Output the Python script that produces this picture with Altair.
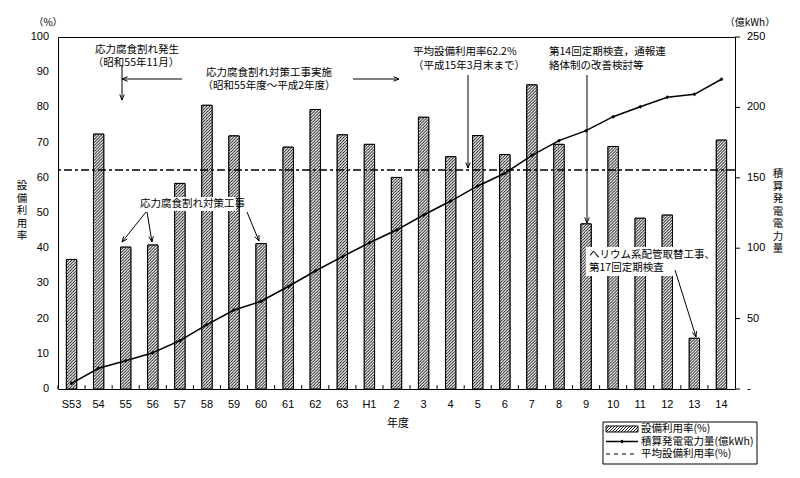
import math
import urllib.parse
import altair as alt
import pandas as pd

# ---------------- data ----------------
years = ["S53", "54", "55", "56", "57", "58", "59", "60", "61", "62", "63", "H1",
         "2", "3", "4", "5", "6", "7", "8", "9", "10", "11", "12", "13", "14"]
utilization = [36.8, 72.4, 40.3, 40.9, 58.4, 80.6, 71.9, 41.3, 68.7, 79.4, 72.2, 69.5,
               60.1, 77.2, 66.0, 72.0, 66.6, 86.4, 69.5, 46.9, 68.9, 48.5, 49.4, 14.4, 70.7]
cumulative = [4.0, 14.7, 20.1, 25.8, 34.3, 45.7, 56.1, 62.3, 72.8, 83.8, 94.0, 103.9,
              112.9, 123.6, 133.5, 144.2, 153.2, 166.0, 176.4, 183.5, 193.4, 200.5, 207.2, 209.3, 220.0]
avg_util = 62.2
left_ticks = [0, 10, 20, 30, 40, 50, 60, 70, 80, 90, 100]
right_ticks = [0, 50, 100, 150, 200, 250]
right_tick_labels = ["-", "50", "100", "150", "200", "250"]

CJK = "Noto Sans CJK JP"
NUM = "Liberation Sans"
W, H = 677, 352
OX, OY = 58, 37  # page position of plot origin
STEP = W / len(years)


def px(x):
    return x - OX


def py(y):
    return y - OY


# hatch pattern as an SVG image (tiles at native pixel size)
svg = ("<svg xmlns='http://www.w3.org/2000/svg' width='100%' height='100%'>"
       "<defs><pattern id='h' width='3' height='3' patternUnits='userSpaceOnUse'>"
       "<path d='M-1,1L1,-1M0,3L3,0M2,4L4,2' stroke='#000' stroke-width='0.9'/>"
       "</pattern></defs>"
       "<rect width='100%' height='100%' fill='#fff'/>"
       "<rect width='100%' height='100%' fill='url(#h)'/></svg>")
HATCH = "data:image/svg+xml;charset=utf-8," + urllib.parse.quote(svg, safe="")

df = pd.DataFrame({"year": years, "util": utilization, "cum": cumulative})
dummy = pd.DataFrame({"d": [0]})

quiet = dict(title=None, labels=False, ticks=False, domain=False, grid=False)
x_scale = alt.Scale(paddingInner=0.62, paddingOuter=0.31)
x_enc = alt.X("year:N", sort=years, scale=x_scale, axis=alt.Axis(**quiet))
x_enc_na = alt.X("year:N", sort=years, scale=x_scale, axis=None)

yl_scale = alt.Scale(domain=[0, 100], nice=False, zero=True)
yr_scale = alt.Scale(domain=[0, 250], nice=False, zero=True)

base = alt.Chart(df)

bars = base.mark_bar(fill="#ffffff", stroke="black", strokeWidth=1).encode(
    x=x_enc, y=alt.Y("util:Q", scale=yl_scale, axis=alt.Axis(values=left_ticks, **quiet)))
hatch = base.mark_image(aspect=False).encode(
    x=x_enc_na, y=alt.Y("util:Q", scale=yl_scale, axis=None), y2=alt.datum(0),
    url=alt.value(HATCH))
outline = base.mark_bar(fillOpacity=0, stroke="black", strokeWidth=1).encode(
    x=x_enc_na, y=alt.Y("util:Q", scale=yl_scale, axis=None))
# small inward ticks at category boundaries on the bottom axis
xticks = base.mark_rule(color="black", strokeWidth=1, xOffset=-STEP / 2).encode(
    x=x_enc_na, y=alt.datum(0, scale=yl_scale), y2=alt.datum(1.1))
# category labels of the bottom axis
xlabels = base.mark_text(font=NUM, fontSize=11, color="black", baseline="middle").encode(
    x=x_enc_na, y=alt.value(H + 16), text="year:N")
avg_rule = alt.Chart(pd.DataFrame({"v": [avg_util]})).mark_rule(
    color="black", strokeWidth=1.5, strokeDash=[8, 3, 3, 3]
).encode(y=alt.Y("v:Q", scale=yl_scale, axis=None))
# left axis labels, placed through the left scale
ylabels = alt.Chart(pd.DataFrame({"v": left_ticks})).mark_text(
    font=NUM, fontSize=11, color="black", align="right", baseline="middle"
).encode(x=alt.value(-9), y=alt.Y("v:Q", scale=yl_scale, axis=None), text="v:Q")

left = alt.layer(bars, hatch, outline, xticks, xlabels, avg_rule, ylabels)

line = base.mark_line(color="black", strokeWidth=1.5).encode(
    x=x_enc_na,
    y=alt.Y("cum:Q", scale=yr_scale, axis=alt.Axis(values=right_ticks, orient="right", **quiet)))
pts = base.mark_point(filled=True, shape="diamond", size=16, color="black", opacity=1).encode(
    x=x_enc_na, y=alt.Y("cum:Q", scale=yr_scale, axis=None))
rdf = pd.DataFrame({"v": right_ticks, "lab": right_tick_labels})
rticks = alt.Chart(rdf).mark_rule(color="black", strokeWidth=1).encode(
    x=alt.value(W), x2=alt.value(W + 5), y=alt.Y("v:Q", scale=yr_scale, axis=None))
rlabels = alt.Chart(rdf).mark_text(font=NUM, fontSize=11, color="black", align="left",
                                   baseline="middle").encode(
    x=alt.value(W + 12), y=alt.Y("v:Q", scale=yr_scale, axis=None), text="lab:N")
right = alt.layer(line, pts, rticks, rlabels)

# ---------------- annotations (pixel positions, alt.value) ----------------
annos = []


def rect(x1, y1, x2, y2, **kw):
    annos.append(alt.Chart(dummy).mark_rect(**kw).encode(
        x=alt.value(px(x1)), x2=alt.value(px(x2)), y=alt.value(py(y1)), y2=alt.value(py(y2))))


def seg(x1, y1, x2, y2, **kw):
    annos.append(alt.Chart(dummy).mark_rule(**kw).encode(
        x=alt.value(px(x1)), x2=alt.value(px(x2)), y=alt.value(py(y1)), y2=alt.value(py(y2))))


def text(x, y, t, align="left", size=10.5, font=CJK):
    annos.append(alt.Chart(dummy).mark_text(font=font, fontSize=size, color="black", align=align,
                                            baseline="middle", text=t).encode(
        x=alt.value(px(x)), y=alt.value(py(y))))


def arrow(x1, y1, x2, y2, head=6, ang=22):
    seg(x1, y1, x2, y2, color="black", strokeWidth=1)
    a = math.atan2(y1 - y2, x1 - x2)
    for s in (-1, 1):
        b = a + s * math.radians(ang)
        seg(x2, y2, x2 + head * math.cos(b), y2 + head * math.sin(b), color="black", strokeWidth=1)


rect(136, 197, 236, 211, fill="white")
rect(586, 247, 692, 276, fill="white")

text(137, 50, "応力腐食割れ発生", "center")
text(136, 63, "（昭和55年11月）", "center")
text(269, 73, "応力腐食割れ対策工事実施", "center")
text(269, 86, "（昭和55年度～平成2年度）", "center")
text(413, 52, "平均設備利用率62.2%")
text(413, 66, "（平成15年3月末まで）")
text(549, 52, "第14回定期検査，通報連")
text(549, 66, "絡体制の改善検討等")
text(140, 204, "応力腐食割れ対策工事")
text(589, 255, "ヘリウム系配管取替工事、")
text(589, 268, "第17回定期検査")

for a in [(122, 66, 122, 100), (182, 79, 122, 79), (353, 79, 399, 79),
          (468, 75, 468, 168), (587, 75, 587, 223),
          (146, 212, 122, 242), (147, 212, 152, 242), (247, 212, 259, 241),
          (675, 270, 696, 337)]:
    arrow(*a)

# axis titles and units
text(398, 424, "年度", "center", size=11)
text(48, 23, "（%）", "center", size=10)
text(750, 23, "（億kWh）", "center", size=10)
for i, c in enumerate("設備利用率"):
    text(22, 186 + 12.5 * i, c, "center")
for i, c in enumerate("積算発電電力量"):
    text(778, 174 + 12.5 * i, c, "center")

# legend
rect(603, 422, 757, 464, fill="white", stroke="black", strokeWidth=1)
annos.append(alt.Chart(dummy).mark_image(aspect=False).encode(
    x=alt.value(px(606)), x2=alt.value(px(638)), y=alt.value(py(426)), y2=alt.value(py(432)),
    url=alt.value(HATCH)))
rect(606, 426, 638, 432, fillOpacity=0, stroke="black", strokeWidth=1)
seg(606, 441.5, 638, 441.5, color="black", strokeWidth=1.5)
annos.append(alt.Chart(dummy).mark_point(filled=True, shape="diamond", size=16, color="black",
                                         opacity=1).encode(x=alt.value(px(622)), y=alt.value(py(441.5))))
seg(606, 454, 638, 454, color="black", strokeWidth=1, strokeDash=[4, 4])
text(641, 429, "設備利用率(%)")
text(641, 441.5, "積算発電電力量(億kWh)")
text(641, 454, "平均設備利用率(%)")

chart = alt.layer(left, right, *annos).resolve_scale(y="independent").properties(
    width=W, height=H,
    autosize=alt.AutoSizeParams(type="none"),
    padding={"left": 50, "top": 29, "right": 57, "bottom": 80},
    background="white",
).configure_view(stroke="black", strokeWidth=1)

chart.save("out.html", embed_options={"renderer": "svg", "actions": False})
